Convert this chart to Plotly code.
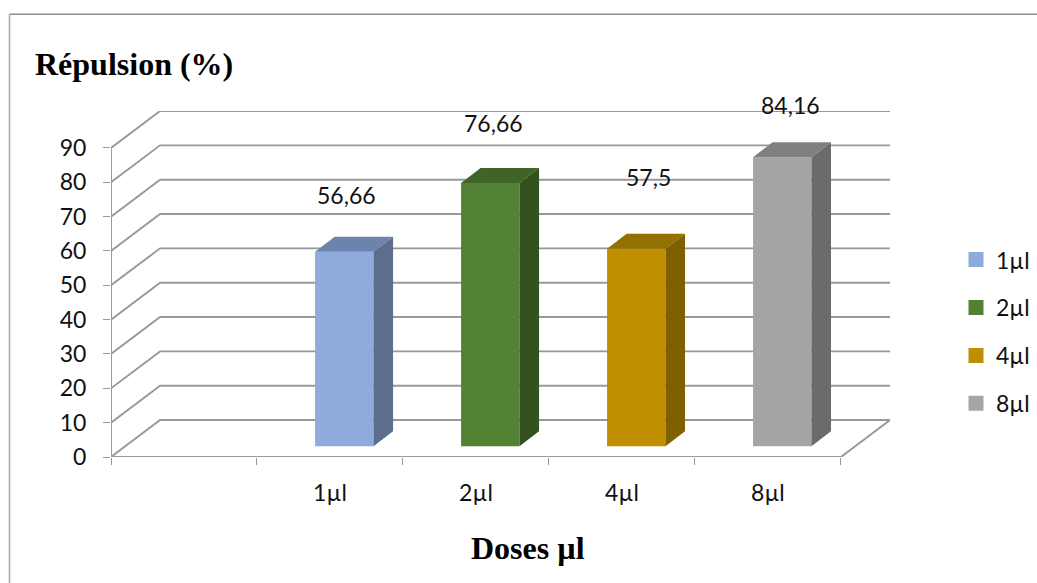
import plotly.graph_objects as go

# ---- data ----
categories = ["1µl", "2µl", "4µl", "8µl"]
values = [56.66, 76.66, 57.5, 84.16]
value_labels = ["56,66", "76,66", "57,5", "84,16"]
y_ticks = [0, 10, 20, 30, 40, 50, 60, 70, 80, 90]

# ---- styles ----
front_colors = ["#8faadc", "#548235", "#bf8f00", "#a5a5a5"]
side_colors = ["#5e6d8e", "#335220", "#7f6000", "#6b6b6b"]
top_colors = ["#6c83ad", "#406328", "#947000", "#808080"]
label_lift_px = [57, 60, 72, 52]
label_shift_px = [2, 3, 12, 8]
GRID = "#989898"
TEXT_FONT = "Lato"
TITLE_FONT = "Liberation Serif"

# ---- pseudo-3D geometry in axis units ----
W, H = 1037, 583
L, R, T, B = 111, 890, 110.5, 457.5
n_slots = len(categories) + 1
wall_dx = 49 / 145.8
wall_dy = 37 / 3.44
x_range = [0, n_slots + wall_dx]
y_range = [0, y_ticks[-1] + wall_dy]
bar_left = 0.398
bar_w = 0.40
bar_base = 3.14
bar_dx = 0.134
bar_dy = 4.36

fig = go.Figure()

# gridlines: wall, floor, axis lines
gx, gy = [], []
for v in y_ticks:
    gx += [0, wall_dx, n_slots + wall_dx, None]
    gy += [v, v + wall_dy, v + wall_dy, None]
gx += [n_slots + wall_dx, n_slots, 0, 0]
gy += [wall_dy, 0, 0, y_ticks[-1]]
fig.add_trace(go.Scatter(x=gx, y=gy, mode="lines", line=dict(color=GRID, width=1.9),
                         showlegend=False, hoverinfo="skip", cliponaxis=False))

# bars on an overlaying pair of axes so that they sit above the grid
for i, (c, v) in enumerate(zip(categories, values)):
    x0 = i + 1 + bar_left
    x1 = x0 + bar_w
    top = bar_base + v
    fig.add_trace(go.Bar(x=[x0 + bar_w / 2], y=[v], base=[bar_base], width=[bar_w],
                         marker=dict(color=front_colors[i], line=dict(width=0)),
                         xaxis="x2", yaxis="y2", showlegend=False, name=c))
    fig.add_trace(go.Scatter(x=[x1, x1 + bar_dx, x1 + bar_dx, x1, x1],
                             y=[bar_base, bar_base + bar_dy, top + bar_dy, top, bar_base],
                             mode="lines", fill="toself", fillcolor=side_colors[i],
                             line=dict(width=0), xaxis="x2", yaxis="y2",
                             showlegend=False, hoverinfo="skip"))
    fig.add_trace(go.Scatter(x=[x0, x1, x1 + bar_dx, x0 + bar_dx, x0],
                             y=[top, top, top + bar_dy, top + bar_dy, top],
                             mode="lines", fill="toself", fillcolor=top_colors[i],
                             line=dict(width=0), xaxis="x2", yaxis="y2",
                             showlegend=False, hoverinfo="skip"))
    # legend entry
    fig.add_trace(go.Scatter(x=[None], y=[None], mode="markers", name=c,
                             legendgroup=c,
                             marker=dict(symbol="square", size=15, color=front_colors[i])))
    fig.add_annotation(x=x0 + bar_w / 2, y=top, text=value_labels[i], showarrow=False,
                       xref="x", yref="y", xanchor="center", yanchor="middle",
                       yshift=label_lift_px[i], xshift=label_shift_px[i],
                       font=dict(family=TEXT_FONT, size=23, color="#111111"))

# chart frame: top and left edges only reach the picture's sides
px = lambda p: (p - L) / (R - L)
py = lambda p: (B - p) / (B - T)
fig.add_shape(type="line", xref="paper", yref="paper", x0=px(9.5), x1=px(W + 2), y0=py(13.5), y1=py(13.5),
              line=dict(color="#8c8c8c", width=1.5))
fig.add_shape(type="line", xref="paper", yref="paper", x0=px(9.5), x1=px(9.5), y0=py(13.5), y1=py(H + 2),
              line=dict(color="#a6a6a6", width=1.5))

fig.add_annotation(xref="paper", yref="paper", x=px(528), y=py(549), text="<b>Doses µl</b>",
                   showarrow=False, xanchor="center", yanchor="middle",
                   font=dict(family=TITLE_FONT, size=32, color="black"))

axis_hidden = dict(visible=False, fixedrange=True)
fig.update_layout(
    width=W, height=H,
    margin=dict(l=L, r=W - R, t=T, b=H - B, pad=0, autoexpand=False),
    paper_bgcolor="white", plot_bgcolor="white",
    barmode="overlay",
    title=dict(text="<b>Répulsion (%)</b>", x=35 / W, xanchor="left", xref="container",
               y=1 - 64 / H, yanchor="middle", yref="container",
               font=dict(family=TITLE_FONT, size=32, color="black"), pad=dict(l=0, r=0, t=0, b=0)),
    xaxis=dict(range=x_range, showgrid=False, zeroline=False, showline=False, fixedrange=True,
               tickmode="array", tickvals=[i + 1.5 for i in range(len(categories))],
               ticktext=categories, ticks="outside", ticklen=7, tickcolor="rgba(0,0,0,0)",
               ticklabelstandoff=8,
               tickfont=dict(family=TEXT_FONT, size=23, color="#111111"),
               minor=dict(tickmode="array", tickvals=list(range(n_slots + 1)), ticks="outside",
                          ticklen=7, tickcolor=GRID, tickwidth=1.2, showgrid=False)),
    yaxis=dict(range=y_range, showgrid=False, zeroline=False, showline=False, fixedrange=True,
               tickmode="array", tickvals=y_ticks, ticks="outside", ticklen=7,
               tickcolor=GRID, tickwidth=1.2, ticklabelstandoff=12,
               tickfont=dict(family=TEXT_FONT, size=23, color="#111111")),
    xaxis2=dict(range=x_range, overlaying="x", **axis_hidden),
    yaxis2=dict(range=y_range, overlaying="y", **axis_hidden),
    legend=dict(x=px(956), y=py(238), xanchor="left", yanchor="top", xref="paper", yref="paper",
                font=dict(family=TEXT_FONT, size=23, color="#111111"),
                tracegroupgap=15, itemwidth=30, bgcolor="rgba(0,0,0,0)", borderwidth=0,
                traceorder="grouped"),
    hovermode=False,
)

fig.write_html("out.html", config={"displayModeBar": False},
               post_script="document.body.style.margin='0';document.documentElement.style.overflow='hidden';")
